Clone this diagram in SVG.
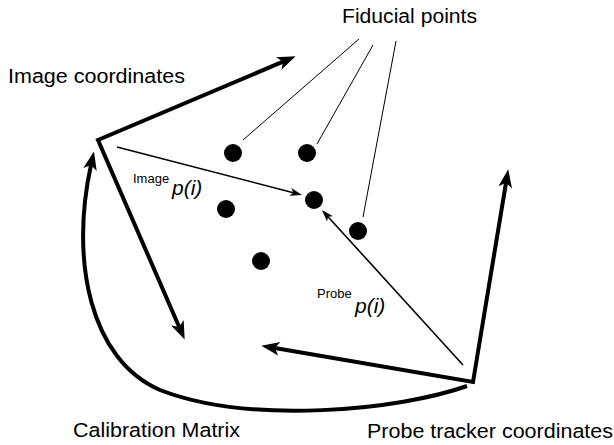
<svg xmlns="http://www.w3.org/2000/svg" width="614" height="445" viewBox="0 0 614 445">
<style>
.lbl{font-family:"Liberation Sans",Arial,sans-serif;font-size:20px;fill:#000}
.sup{font-family:"Liberation Sans",Arial,sans-serif;font-size:13px;fill:#000}
.it{font-family:"Liberation Sans",Arial,sans-serif;font-size:21px;font-style:italic;fill:#000}
.thick{fill:none;stroke:#000;stroke-width:4;stroke-linejoin:miter}
.thin{fill:none;stroke:#000;stroke-width:1.6}
.lead{fill:none;stroke:#000;stroke-width:1}
.dot{fill:#000}
</style>
<defs>
<marker id="big" markerUnits="userSpaceOnUse" markerWidth="20" markerHeight="16" viewBox="0 -7 17 14" refX="4" refY="0" orient="auto-start-reverse">
<path d="M0,-6 L16,0 L0,6 L4,0 Z" fill="#000"/>
</marker>
<marker id="small" markerUnits="userSpaceOnUse" markerWidth="14" markerHeight="10" viewBox="0 -5 13 10" refX="3" refY="0" orient="auto">
<path d="M0,-4 L12,0 L0,4 L3,0 Z" fill="#000"/>
</marker>
</defs>
<rect width="614" height="445" fill="#fff"/>
<g id="connectors">
<path class="thick" d="M283,61.7 L98,140 L179.2,327" marker-start="url(#big)" marker-end="url(#big)"/>
<path class="thick" d="M506,182.8 L473,382 L274.8,348" marker-start="url(#big)" marker-end="url(#big)"/>
<path class="thick" d="M467,386 C400,410 250,425 160,390 C90,360 70,260 91,165" marker-end="url(#big)"/>
<path class="thin" d="M117,147 L293.3,192.7" marker-end="url(#small)"/>
<path class="thin" d="M463,365 L328,216.7" marker-end="url(#small)"/>
<path class="lead" d="M359,39 L243,140"/>
<path class="lead" d="M373,45 L317,144"/>
<path class="lead" d="M396,41 L363,217"/>
</g>
<g id="fiducials">
<circle class="dot" cx="233" cy="153" r="9"/>
<circle class="dot" cx="307" cy="153" r="9"/>
<circle class="dot" cx="314" cy="200" r="9"/>
<circle class="dot" cx="358" cy="231" r="9"/>
<circle class="dot" cx="226" cy="209" r="9"/>
<circle class="dot" cx="261" cy="261" r="9"/>
</g>
<g id="labels">
<text class="lbl" x="342" y="23" textLength="135" lengthAdjust="spacingAndGlyphs">Fiducial points</text>
<text class="lbl" x="8" y="83" textLength="177" lengthAdjust="spacingAndGlyphs">Image coordinates</text>
<text class="lbl" x="73" y="437" textLength="167" lengthAdjust="spacingAndGlyphs">Calibration Matrix</text>
<text class="lbl" x="367" y="438" textLength="246" lengthAdjust="spacingAndGlyphs">Probe tracker coordinates</text>
<text x="133" y="183"><tspan class="sup">Image</tspan></text>
<text class="it" x="172" y="195">p(i)</text>
<text x="317" y="298"><tspan class="sup">Probe</tspan></text>
<text class="it" x="355" y="313">p(i)</text>
</g>
</svg>
